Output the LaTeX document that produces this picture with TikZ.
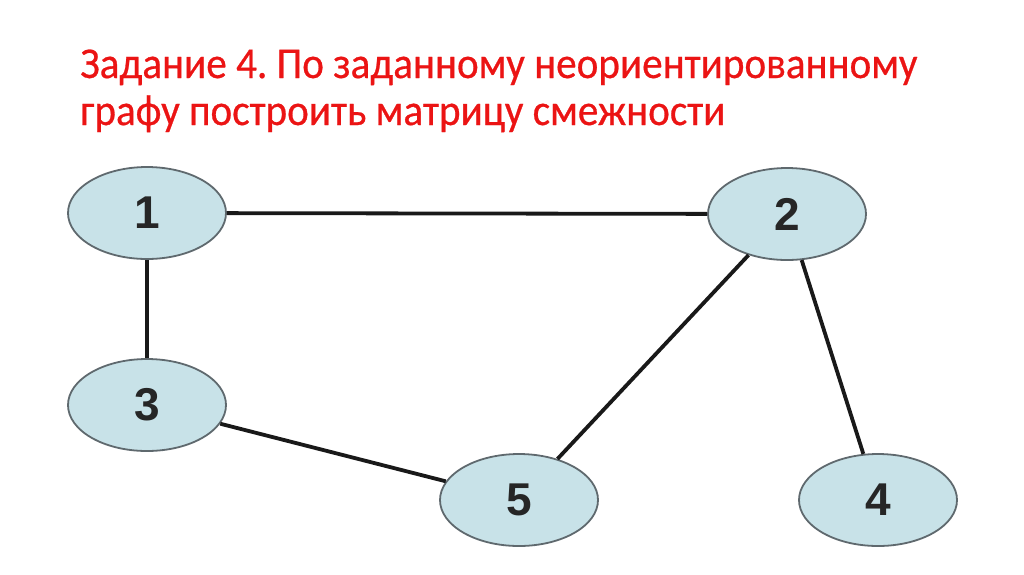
\documentclass[tikz,border=0pt]{standalone}
\usepackage{fontspec}
\setmainfont{Carlito}[FakeStretch=0.935, FakeBold=0.6]
\newfontfamily\numfont{Liberation Sans}
\usetikzlibrary{shapes.geometric}
\definecolor{titlered}{RGB}{235,20,20}
\definecolor{nodefill}{RGB}{200,226,232}
\definecolor{nodeline}{RGB}{95,105,110}
\tikzset{
  vert/.style={ellipse, draw=nodeline, line width=1.8pt, fill=nodefill,
    minimum width=158pt, minimum height=92pt, inner sep=0pt,
    font=\numfont\bfseries\fontsize{46}{46}\selectfont, text=black!85},
  edge/.style={line width=3.8pt, black!90},
  ttl/.style={anchor=base west, text=titlered, font=\fontsize{44}{48}\selectfont, inner sep=0pt}
}
\frenchspacing
\begin{document}
\begin{tikzpicture}[x=1pt,y=-1pt]
\useasboundingbox (0,0) rectangle (1024,574);
\node[ttl] (t1) at (80,78) {Задание 4. По заданному неориентированному};
\node[ttl] (t2) at (80,125) {графу построить матрицу смежности};
\node[vert] (n1) at (147,213) {1};
\node[vert] (n2) at (787,214) {2};
\node[vert] (n3) at (147,405) {3};
\node[vert] (n5) at (519,500) {5};
\node[vert] (n4) at (878,500) {4};
\draw[edge] (n1) -- (n2);
\draw[edge] (n1) -- (n3);
\draw[edge] (n3) -- (n5);
\draw[edge] (n2) -- (n5);
\draw[edge] (n2) -- (n4);
\end{tikzpicture}
\end{document}
